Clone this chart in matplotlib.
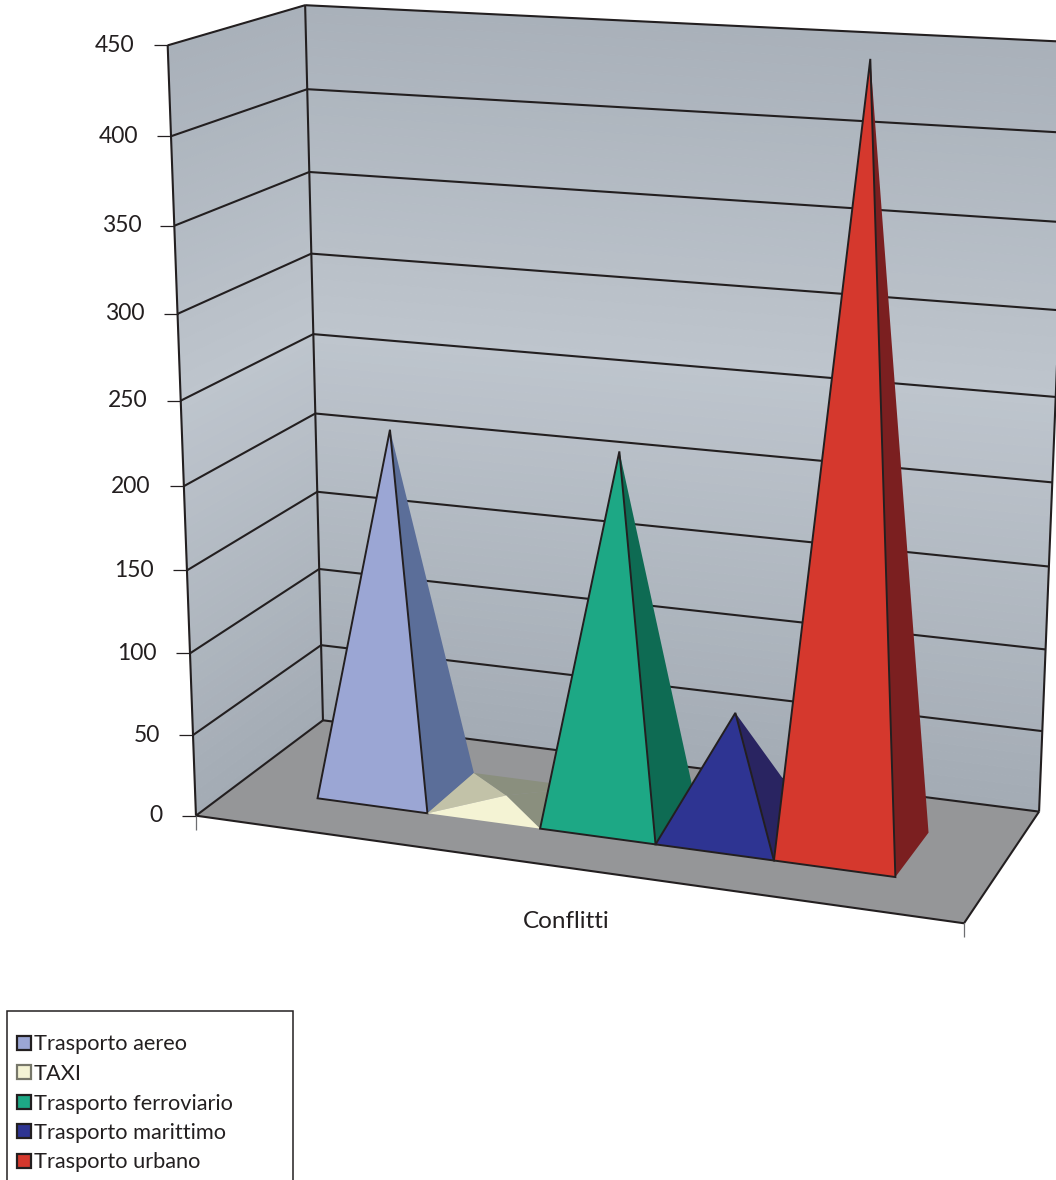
import numpy as np
import matplotlib
matplotlib.use("Agg")
import matplotlib.pyplot as plt
from matplotlib.patches import Polygon, Rectangle

plt.rcParams['font.family'] = ['Lato', 'DejaVu Sans']

# data
categories = ['Trasporto aereo', 'TAXI', 'Trasporto ferroviario', 'Trasporto marittimo', 'Trasporto urbano']
values = [220, 3, 220, 72, 449]
ticks = [0, 50, 100, 150, 200, 250, 300, 350, 400, 450]
group_label = 'Conflitti'

front_colors = ['#9ba6d4', '#f4f3d4', '#1da885', '#2e3492', '#d5382d']
side_colors = ['#5b6e99', '#8a8f7e', '#0e6b53', '#292461', '#7b1f20']
swatch_edges = ['#231f20', '#77776a', '#231f20', '#231f20', '#231f20']
taxi_left = '#c2c2a8'
floor_color = '#959698'
line_color = '#231f20'

# camera: screen y of each gridline along three wall edges
front_y = [816, 736, 652, 570, 486, 400, 314, 225, 136, 45]
back_left_y = [720, 645, 568, 491, 414, 334, 255, 173, 89, 7]
back_right_y = [812, 730, 648, 566, 482, 396, 310, 222, 132, 43]

rows, rhs = [], []


def add_point(x, val, z, u, v, w=1.0):
    p = [x, val / 450, z, 1]
    rows.append([w * q for q in p] + [0, 0, 0, 0] + [-w * u * q for q in p[:3]])
    rhs.append(w * u)
    rows.append([0, 0, 0, 0] + [w * q for q in p] + [-w * v * q for q in p[:3]])
    rhs.append(w * v)


for t, a, b, c in zip(ticks, front_y, back_left_y, back_right_y):
    w = 6.0 if t == 0 else 1.0  # the floor has to sit right
    add_point(0, t, 0, 196 + (168 - 196) * t / 450, a, w)
    add_point(0, t, 1, 323 + (305 - 323) * t / 450, b, w)
    add_point(1, t, 1, 1039 + (1070 - 1039) * t / 450, c, w)
add_point(1, 0, 0, 964, 923, 6.0)
cam = np.linalg.lstsq(np.array(rows), np.array(rhs), rcond=None)[0]
P = np.append(cam, 1).reshape(3, 4)


def proj(x, val, z):
    q = P @ np.array([x, val / 450, z, 1.0])
    return q[0] / q[2], q[1] / q[2]


fig = plt.figure(figsize=(10.56, 11.8), dpi=100)
ax = fig.add_axes([0, 0, 1, 1])
ax.set_xlim(0, 1056)
ax.set_ylim(1180, 0)
ax.axis('off')

# walls, shaded by height
c_dark = np.array([163, 171, 180]) / 255
c_light = np.array([190, 197, 205]) / 255
steps = 90
for i in range(steps):
    v0, v1 = 450 * i / steps, 450 * (i + 1) / steps
    k = 1 - abs((v0 + v1) / 450 - 1.12) / 1.12
    col = c_dark + (c_light - c_dark) * k
    ax.add_patch(Polygon([proj(0, v0, 1), proj(1, v0, 1), proj(1, v1, 1), proj(0, v1, 1)],
                         fc=col, ec=col, lw=0.6, zorder=1))
    ax.add_patch(Polygon([proj(0, v0, 0), proj(0, v0, 1), proj(0, v1, 1), proj(0, v1, 0)],
                         fc=col, ec=col, lw=0.6, zorder=1))

# floor
ax.add_patch(Polygon([proj(0, 0, 0), proj(1, 0, 0), proj(1, 0, 1), proj(0, 0, 1)],
                     fc=floor_color, ec='none', zorder=2))


def seg(a, b, lw=1.5, color=line_color, z=3):
    ax.plot([a[0], b[0]], [a[1], b[1]], color=color, lw=lw, zorder=z, solid_capstyle='butt')


# gridlines, ticks, labels
for t in ticks:
    seg(proj(0, t, 0), proj(0, t, 1))
    seg(proj(0, t, 1), proj(1, t, 1))
    fx, fy = proj(0, t, 0)
    seg((fx - 14, fy), (fx, fy), lw=0.9)
    ax.text(fx - 33, fy, str(t), ha='right', va='center', fontsize=16.5, color='#231f20', zorder=5)

seg(proj(0, 0, 0), proj(0, 450, 0))
seg(proj(0, 0, 1), proj(0, 450, 1))
seg(proj(1, 0, 1), proj(1, 450, 1))
seg(proj(0, 0, 0), proj(1, 0, 0))
seg(proj(1, 0, 0), proj(1, 0, 1))
for x in (0, 1):
    fx, fy = proj(x, 0, 0)
    seg((fx, fy), (fx, fy + 14), lw=0.9, color='#6d6e71')

ax.text(566, 921, group_label, ha='center', va='center', fontsize=17.5, color='#231f20', zorder=5)

# pyramids
x_start, x_end = 0.119, 0.887
z_front, z_back = 0.285, 0.69
bw = (x_end - x_start) / len(values)
for i, val in enumerate(values):
    x0 = x_start + i * bw
    x1 = x0 + bw
    fl, fr = proj(x0, 0, z_front), proj(x1, 0, z_front)
    bl, br = proj(x0, 0, z_back), proj(x1, 0, z_back)
    apex = proj((x0 + x1) / 2, val, (z_front + z_back) / 2)
    zo = 10 + i
    if val < 20:
        # nearly flat: every face shows, no outlines
        ax.add_patch(Polygon([fl, bl, apex], fc=taxi_left, ec='none', zorder=zo))
        ax.add_patch(Polygon([bl, br, apex], fc=side_colors[i], ec='none', zorder=zo))
        ax.add_patch(Polygon([fr, br, apex], fc=side_colors[i], ec='none', zorder=zo))
        ax.add_patch(Polygon([fl, fr, apex], fc=front_colors[i], ec='none', zorder=zo))
        continue
    ax.add_patch(Polygon([fr, br, apex], fc=side_colors[i], ec='none', zorder=zo))
    ax.add_patch(Polygon([fl, fr, apex], fc=front_colors[i], ec=line_color, lw=1.4,
                         joinstyle='miter', zorder=zo))

# legend
ax.add_patch(Rectangle((7, 1011), 286, 190, fc='white', ec=line_color, lw=1.1, zorder=4))
for i, name in enumerate(categories):
    y = 1043 + i * 29.5
    ax.add_patch(Rectangle((16.5, y - 7.5), 14, 14, fc=front_colors[i], ec=swatch_edges[i], lw=1.6, zorder=5))
    ax.text(34, y + 1.5, name, ha='left', va='center', fontsize=15.7, color='#231f20', zorder=5)

fig.savefig('out.png', dpi=100)
